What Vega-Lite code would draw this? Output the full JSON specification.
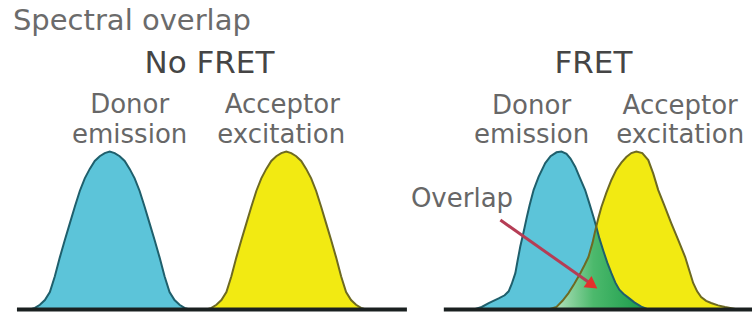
{
  "$schema": "https://vega.github.io/schema/vega-lite/v6.json",
  "width": 754,
  "height": 317,
  "autosize": {"type": "fit", "contains": "padding"},
  "padding": 0,
  "background": "white",
  "config": {"view": {"stroke": null}},
  "datasets": {
    "curves": [
      {"s":"nb","x":30,"y":0},{"s":"nb","x":35,"y":0.01},{"s":"nb","x":40,"y":0.03},{"s":"nb","x":45,"y":0.06},{"s":"nb","x":50,"y":0.11},{"s":"nb","x":55,"y":0.21},{"s":"nb","x":60,"y":0.33},{"s":"nb","x":65,"y":0.44},{"s":"nb","x":70,"y":0.545},{"s":"nb","x":75,"y":0.65},{"s":"nb","x":80,"y":0.75},{"s":"nb","x":85,"y":0.83},{"s":"nb","x":90,"y":0.89},{"s":"nb","x":95,"y":0.94},{"s":"nb","x":100,"y":0.97},{"s":"nb","x":105,"y":0.99},{"s":"nb","x":110,"y":1},{"s":"nb","x":115,"y":0.99},{"s":"nb","x":120,"y":0.97},{"s":"nb","x":125,"y":0.94},{"s":"nb","x":130,"y":0.89},{"s":"nb","x":135,"y":0.83},{"s":"nb","x":140,"y":0.75},{"s":"nb","x":145,"y":0.65},{"s":"nb","x":150,"y":0.545},{"s":"nb","x":155,"y":0.44},{"s":"nb","x":160,"y":0.33},{"s":"nb","x":165,"y":0.21},{"s":"nb","x":170,"y":0.11},{"s":"nb","x":175,"y":0.06},{"s":"nb","x":180,"y":0.03},{"s":"nb","x":185,"y":0.01},{"s":"nb","x":190,"y":0},
      {"s":"na","x":207,"y":0},{"s":"na","x":212,"y":0.01},{"s":"na","x":217,"y":0.03},{"s":"na","x":222,"y":0.06},{"s":"na","x":227,"y":0.11},{"s":"na","x":232,"y":0.21},{"s":"na","x":237,"y":0.33},{"s":"na","x":242,"y":0.44},{"s":"na","x":247,"y":0.545},{"s":"na","x":252,"y":0.65},{"s":"na","x":257,"y":0.75},{"s":"na","x":262,"y":0.83},{"s":"na","x":267,"y":0.89},{"s":"na","x":272,"y":0.94},{"s":"na","x":277,"y":0.97},{"s":"na","x":282,"y":0.99},{"s":"na","x":287,"y":1},{"s":"na","x":292,"y":0.99},{"s":"na","x":297,"y":0.97},{"s":"na","x":302,"y":0.94},{"s":"na","x":307,"y":0.89},{"s":"na","x":312,"y":0.83},{"s":"na","x":317,"y":0.75},{"s":"na","x":322,"y":0.65},{"s":"na","x":327,"y":0.545},{"s":"na","x":332,"y":0.44},{"s":"na","x":337,"y":0.33},{"s":"na","x":342,"y":0.21},{"s":"na","x":347,"y":0.11},{"s":"na","x":352,"y":0.06},{"s":"na","x":357,"y":0.03},{"s":"na","x":362,"y":0.01},{"s":"na","x":367,"y":0},
      {"s":"fb","x":475,"y":0},{"s":"fb","x":483,"y":0.016},{"s":"fb","x":490,"y":0.04},{"s":"fb","x":500,"y":0.07},{"s":"fb","x":506,"y":0.09},{"s":"fb","x":510,"y":0.115},{"s":"fb","x":513,"y":0.16},{"s":"fb","x":516.7,"y":0.23},{"s":"fb","x":519,"y":0.31},{"s":"fb","x":521.7,"y":0.4},{"s":"fb","x":525,"y":0.49},{"s":"fb","x":528.3,"y":0.587},{"s":"fb","x":531,"y":0.66},{"s":"fb","x":535,"y":0.756},{"s":"fb","x":540,"y":0.84},{"s":"fb","x":546.7,"y":0.927},{"s":"fb","x":552,"y":0.97},{"s":"fb","x":558,"y":0.995},{"s":"fb","x":563,"y":1},{"s":"fb","x":568,"y":0.985},{"s":"fb","x":572,"y":0.955},{"s":"fb","x":576.7,"y":0.904},{"s":"fb","x":581,"y":0.84},{"s":"fb","x":586.7,"y":0.756},{"s":"fb","x":591,"y":0.67},{"s":"fb","x":595,"y":0.587},{"s":"fb","x":598,"y":0.52},{"s":"fb","x":601,"y":0.45},{"s":"fb","x":605,"y":0.37},{"s":"fb","x":609,"y":0.295},{"s":"fb","x":613,"y":0.23},{"s":"fb","x":617,"y":0.17},{"s":"fb","x":621,"y":0.125},{"s":"fb","x":625,"y":0.1},{"s":"fb","x":630,"y":0.075},{"s":"fb","x":636,"y":0.045},{"s":"fb","x":643,"y":0.018},{"s":"fb","x":650,"y":0},
      {"s":"fa","x":550,"y":0},{"s":"fa","x":558,"y":0.016},{"s":"fa","x":564,"y":0.055},{"s":"fa","x":570,"y":0.104},{"s":"fa","x":576,"y":0.165},{"s":"fa","x":582,"y":0.231},{"s":"fa","x":586,"y":0.28},{"s":"fa","x":590,"y":0.332},{"s":"fa","x":594,"y":0.42},{"s":"fa","x":597,"y":0.503},{"s":"fa","x":600,"y":0.58},{"s":"fa","x":603,"y":0.649},{"s":"fa","x":608,"y":0.74},{"s":"fa","x":613,"y":0.82},{"s":"fa","x":618,"y":0.885},{"s":"fa","x":623,"y":0.93},{"s":"fa","x":628,"y":0.965},{"s":"fa","x":633,"y":0.99},{"s":"fa","x":638,"y":1},{"s":"fa","x":644,"y":0.99},{"s":"fa","x":650,"y":0.946},{"s":"fa","x":655,"y":0.86},{"s":"fa","x":660,"y":0.756},{"s":"fa","x":666,"y":0.66},{"s":"fa","x":673,"y":0.547},{"s":"fa","x":680,"y":0.44},{"s":"fa","x":687,"y":0.332},{"s":"fa","x":691,"y":0.25},{"s":"fa","x":695,"y":0.168},{"s":"fa","x":699,"y":0.115},{"s":"fa","x":703,"y":0.079},{"s":"fa","x":708,"y":0.055},{"s":"fa","x":713,"y":0.041},{"s":"fa","x":720,"y":0.026},{"s":"fa","x":727,"y":0.016},{"s":"fa","x":740,"y":0},
      {"s":"ov","x":550,"y":0},{"s":"ov","x":558,"y":0.016},{"s":"ov","x":564,"y":0.055},{"s":"ov","x":570,"y":0.104},{"s":"ov","x":576,"y":0.165},{"s":"ov","x":582,"y":0.231},{"s":"ov","x":586,"y":0.28},{"s":"ov","x":590,"y":0.332},{"s":"ov","x":594,"y":0.42},{"s":"ov","x":597,"y":0.503},{"s":"ov","x":598,"y":0.52},{"s":"ov","x":601,"y":0.45},{"s":"ov","x":605,"y":0.37},{"s":"ov","x":609,"y":0.295},{"s":"ov","x":613,"y":0.23},{"s":"ov","x":617,"y":0.17},{"s":"ov","x":621,"y":0.125},{"s":"ov","x":625,"y":0.1},{"s":"ov","x":630,"y":0.075},{"s":"ov","x":636,"y":0.045},{"s":"ov","x":643,"y":0.018},{"s":"ov","x":650,"y":0}
    ],
    "rules": [
      {"k":"base","x":17,"x2":408,"y":0,"y2":0},
      {"k":"base","x":445,"x2":754,"y":0,"y2":0},
      {"k":"arrow","x":501.7,"x2":590,"y":0.566,"y2":0.174}
    ],
    "heads": [
      {"k":"arrowhead","x":594,"y":0.155}
    ],
    "texts": [
      {"k":"title","t":"Spectral overlap","x":13,"y":1.769},
      {"k":"head","t":"No FRET","x":210,"y":1.497},
      {"k":"head","t":"FRET","x":595,"y":1.497},
      {"k":"lab","t":"Donor","x":130,"y":1.244},
      {"k":"lab","t":"emission","x":130,"y":1.054},
      {"k":"lab","t":"Acceptor","x":283,"y":1.244},
      {"k":"lab","t":"excitation","x":282,"y":1.054},
      {"k":"lab","t":"Donor","x":533,"y":1.237},
      {"k":"lab","t":"emission","x":533,"y":1.054},
      {"k":"lab","t":"Acceptor","x":682,"y":1.237},
      {"k":"lab","t":"excitation","x":682,"y":1.054},
      {"k":"over","t":"Overlap","x":412,"y":0.649}
    ]
  },
  "encoding": {
    "x": {"field": "x", "type": "quantitative", "scale": {"domain": [0, 754], "nice": false, "zero": false}, "axis": null},
    "y": {"field": "y", "type": "quantitative", "scale": {"domain": [-0.0475, 1.959], "nice": false, "zero": false}, "axis": null}
  },
  "layer": [
    {"data": {"name": "curves"}, "transform": [{"filter": "datum.s == 'nb'"}], "mark": {"type": "area", "color": "#5cc4d9", "opacity": 1}, "encoding": {"y2": {"datum": 0}}},
    {"data": {"name": "curves"}, "transform": [{"filter": "datum.s == 'na'"}], "mark": {"type": "area", "color": "#f2ea12", "opacity": 1}, "encoding": {"y2": {"datum": 0}}},
    {"data": {"name": "curves"}, "transform": [{"filter": "datum.s == 'fb'"}], "mark": {"type": "area", "color": "#5cc4d9", "opacity": 1}, "encoding": {"y2": {"datum": 0}}},
    {"data": {"name": "curves"}, "transform": [{"filter": "datum.s == 'fa'"}], "mark": {"type": "area", "color": "#f2ea12", "opacity": 1}, "encoding": {"y2": {"datum": 0}}},
    {"data": {"name": "curves"}, "transform": [{"filter": "datum.s == 'ov'"}], "mark": {"type": "area", "opacity": 1, "color": {"gradient": "linear", "x1": 0, "x2": 1, "y1": 0, "y2": 0, "stops": [{"offset": 0, "color": "#c4e8cc"}, {"offset": 0.45, "color": "#4cb96c"}, {"offset": 1, "color": "#179a48"}]}}, "encoding": {"y2": {"datum": 0}}},
    {"data": {"name": "curves"}, "transform": [{"filter": "datum.s == 'nb'"}], "mark": {"type": "line", "color": "#1f5f6c", "strokeWidth": 2}},
    {"data": {"name": "curves"}, "transform": [{"filter": "datum.s == 'na'"}], "mark": {"type": "line", "color": "#6e6a22", "strokeWidth": 2}},
    {"data": {"name": "curves"}, "transform": [{"filter": "datum.s == 'fb'"}], "mark": {"type": "line", "color": "#1f5f6c", "strokeWidth": 2}},
    {"data": {"name": "curves"}, "transform": [{"filter": "datum.s == 'fa'"}], "mark": {"type": "line", "color": "#6e6a22", "strokeWidth": 2}},
    {"data": {"name": "rules"}, "transform": [{"filter": "datum.k == 'base'"}], "mark": {"type": "rule", "color": "#1a2020", "strokeWidth": 4}, "encoding": {"x2": {"field": "x2"}, "y2": {"field": "y2"}}},
    {"data": {"name": "rules"}, "transform": [{"filter": "datum.k == 'arrow'"}], "mark": {"type": "rule", "color": "#b53d55", "strokeWidth": 3}, "encoding": {"x2": {"field": "x2"}, "y2": {"field": "y2"}}},
    {"data": {"name": "heads"}, "mark": {"type": "point", "shape": "triangle-right", "filled": true, "color": "#e2302c", "opacity": 1, "size": 190, "angle": 35}},
    {"data": {"name": "texts"}, "transform": [{"filter": "datum.k == 'title'"}], "mark": {"type": "text", "font": "DejaVu Sans", "fontSize": 29, "align": "left", "baseline": "alphabetic", "color": "#6b6b6b"}, "encoding": {"text": {"field": "t"}}},
    {"data": {"name": "texts"}, "transform": [{"filter": "datum.k == 'head'"}], "mark": {"type": "text", "font": "DejaVu Sans", "fontSize": 31, "align": "center", "baseline": "alphabetic", "color": "#454545"}, "encoding": {"text": {"field": "t"}}},
    {"data": {"name": "texts"}, "transform": [{"filter": "datum.k == 'lab'"}], "mark": {"type": "text", "font": "DejaVu Sans", "fontSize": 26, "align": "center", "baseline": "alphabetic", "color": "#676767"}, "encoding": {"text": {"field": "t"}}},
    {"data": {"name": "texts"}, "transform": [{"filter": "datum.k == 'over'"}], "mark": {"type": "text", "font": "DejaVu Sans", "fontSize": 26, "align": "left", "baseline": "alphabetic", "color": "#676767"}, "encoding": {"text": {"field": "t"}}}
  ]
}
